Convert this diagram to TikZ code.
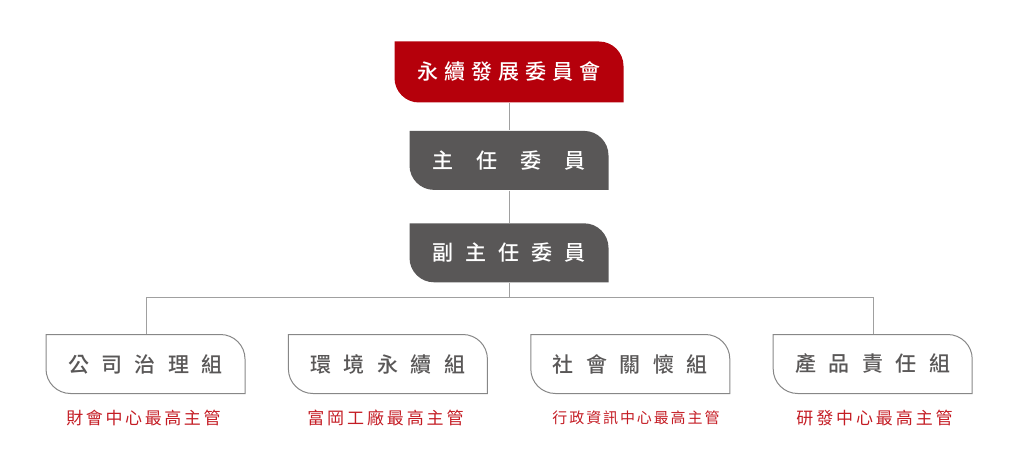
\documentclass[tikz,border=0pt]{standalone}
\usepackage{fontspec}
\newfontfamily\cjk{Noto Sans CJK TC}[BoldFont={Noto Sans CJK TC Medium}]
\usepackage{tikz}
\usetikzlibrary{positioning}

\definecolor{boardred}{RGB}{181,0,11}
\definecolor{chairgray}{RGB}{89,87,87}
\definecolor{boxgray}{RGB}{135,135,135}
\definecolor{linegray}{RGB}{160,160,160}
\definecolor{notered}{RGB}{196,28,36}

% spread the characters of #2 by #1
\makeatletter
\newcommand\spread[2]{\def\spr@gap{#1}\let\spr@sep\relax
  \@tfor\spr@c:=#2\do{\spr@sep\spr@c\def\spr@sep{\hspace{\spr@gap}}}}
\makeatother

\begin{document}
\begin{tikzpicture}[
    x=1pt, y=1pt,
    node distance=27pt and 42pt, % Vertical and horizontal spacing
    leaf/.style={inner sep=0pt, minimum width=200pt, minimum height=60pt,
        font=\cjk\bfseries\fontsize{21}{21}\selectfont,
        path picture={\path[#1]
            ([xshift=0.5pt, yshift=-0.5pt]path picture bounding box.north west)
            -- ([xshift=-25pt, yshift=-0.5pt]path picture bounding box.north east)
            arc[start angle=90, end angle=0, radius=24.5pt]
            -- ([xshift=-0.5pt, yshift=0.5pt]path picture bounding box.south east)
            -- ([xshift=25pt, yshift=0.5pt]path picture bounding box.south west)
            arc[start angle=270, end angle=180, radius=24.5pt]
            -- cycle;}},
    headbox/.style={leaf={fill=boardred}, text=white, minimum width=230pt, minimum height=62pt},
    chairbox/.style={leaf={fill=chairgray}, text=white},
    groupbox/.style={leaf={draw=boxgray, line width=1pt}, text=chairgray},
    note/.style={inner sep=0pt, text=notered, font=\cjk\fontsize{17}{17}\selectfont},
    wire/.style={draw=linegray, line width=1pt}
]
\useasboundingbox (0,0) rectangle (1022,469);

%%%%% Committee chain
\node[headbox] (board) at (509,397) {\spread{6pt}{永續發展委員會}};
\node[chairbox, below=27pt of board] (chair) {\spread{23pt}{主任委員}};
\node[chairbox, below=32pt of chair] (vice)  {\spread{12pt}{副主任委員}};

% Working groups
\node[groupbox] (gov) at (145.5,105) {\spread{12.5pt}{公司治理組}};
\node[groupbox, right=of gov]  (env)  {\spread{12.5pt}{環境永續組}};
\node[groupbox, right=of env]  (soc)  {\spread{12.5pt}{社會關懷組}};
\node[groupbox, right=of soc]  (prod) {\spread{12.5pt}{產品責任組}};

% Heads of the groups
\node[note] (govhead)  at (143.5,51) {\spread{2.6pt}{財會中心最高主管}};
\node[note] (envhead)  at (385.5,51) {\spread{2.9pt}{富岡工廠最高主管}};
\node[note, font=\cjk\fontsize{15}{15}\selectfont] (sochead) at (636,51) {\spread{1.9pt}{行政資訊中心最高主管}};
\node[note] (prodhead) at (874.5,51) {\spread{2.9pt}{研發中心最高主管}};

%  Connectors
\coordinate (busL) at (146,172);
\coordinate (busR) at (873,172);

\draw[wire] (board) -- (chair);
\draw[wire] (chair) -- (vice);
\draw[wire] (vice.south) -- (vice.south |- busL);
\draw[wire] (gov.north -| busL) -- (busL) -- (busR) -- (prod.north -| busR);

\end{tikzpicture}
\end{document}
